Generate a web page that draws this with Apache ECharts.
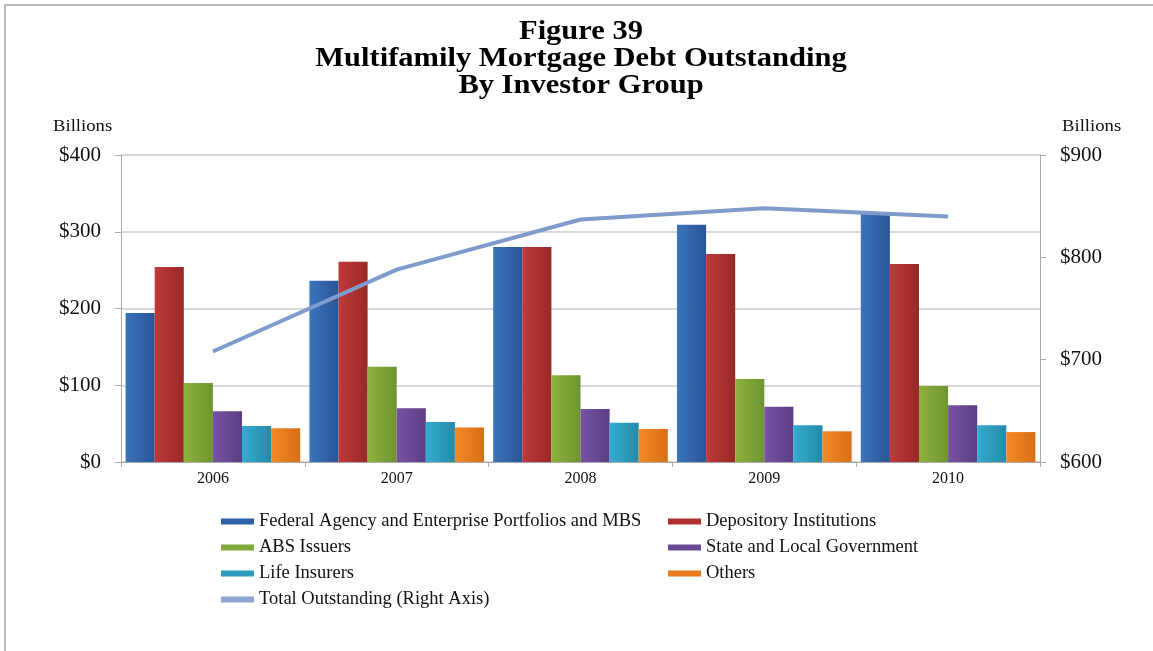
<!DOCTYPE html>
<html>
<head>
<meta charset="utf-8">
<script src="https://cdn.jsdelivr.net/npm/echarts@6/dist/echarts.min.js"></script>
<style>html,body{margin:0;padding:0;background:#fff}#c{width:1153px;height:651px}</style>
</head>
<body>
<div id="c"></div>
<script>
const years = ['2006', '2007', '2008', '2009', '2010'];
const federal = [194, 236, 280, 309, 323];
const depository = [254, 261, 280, 271, 258];
const absIssuers = [103, 124, 113, 108, 99];
const stateLocal = [66, 70, 69, 72, 74];
const lifeIns = [47, 52, 51, 48, 48];
const others = [44, 45, 43, 40, 39];
const total = [708, 788, 837, 848, 840];
const leftTicks = ['$0', '$100', '$200', '$300', '$400'];
const rightTicks = ['$600', '$700', '$800', '$900'];
const titleLines = ['Figure 39', 'Multifamily Mortgage Debt Outstanding', 'By Investor Group'];

const SERIF = "'Liberation Serif', 'DejaVu Serif', serif";
function grad(a, b) {
  return new echarts.graphic.LinearGradient(0, 0, 1, 0, [{offset: 0, color: a}, {offset: 1, color: b}]);
}
const barDefs = [
  ['Federal Agency and Enterprise Portfolios and MBS', federal, '#3A74BE', '#2A5594', '#2F5FA5'],
  ['Depository Institutions', depository, '#C0393A', '#982826', '#B0302E'],
  ['ABS Issuers', absIssuers, '#8DB23E', '#6E9430', '#81A83A'],
  ['State and Local Government', stateLocal, '#7853A3', '#5A3E84', '#6A4A94'],
  ['Life Insurers', lifeIns, '#33ADD0', '#2689A8', '#2D9CBF'],
  ['Others', others, '#F28A26', '#D86E16', '#E87B1E']
];
const series = barDefs.map(d => ({
  name: d[0], type: 'bar', data: d[1], yAxisIndex: 0,
  barGap: '0%', barCategoryGap: '5%',
  itemStyle: {color: grad(d[2], d[3])}
}));
series.push({
  name: 'Total Outstanding (Right Axis)', type: 'line', data: total, yAxisIndex: 1,
  symbol: 'none', lineStyle: {color: '#7F9BCB', width: 4}, itemStyle: {color: '#7F9BCB'}
});

const chart = echarts.init(document.getElementById('c'));
const legendText = {fontFamily: SERIF, fontSize: 18.5, color: '#111'};
const graphics = [
  {type: 'rect', shape: {x: 5, y: 5, width: 1170, height: 670}, style: {fill: 'none', stroke: '#bdbdbd', lineWidth: 2}, silent: true},
  {type: 'text', x: 53, y: 118, scaleX: 1.1, style: {text: 'Billions', font: "17px 'Liberation Serif'", fill: '#111'}},
  {type: 'text', x: 1062, y: 118, scaleX: 1.1, style: {text: 'Billions', font: "17px 'Liberation Serif'", fill: '#111'}}
];
titleLines.forEach((t, i) => {
  graphics.push({type: 'text', x: 581, y: 32 + i * 27, scaleX: 1.13,
    style: {text: t, font: "bold 27px 'Liberation Serif'", fill: '#000', align: 'center', verticalAlign: 'middle'}});
});
chart.setOption({
  animation: false,
  backgroundColor: '#fff',
  grid: {left: 121, right: 113, top: 155, bottom: 189},
  legend: [
    {
      orient: 'vertical', left: 216, top: 507, itemGap: 7, itemWidth: 33, itemHeight: 6,
      textStyle: legendText,
      data: [
        {name: barDefs[0][0], icon: 'rect', itemStyle: {color: barDefs[0][4]}},
        {name: barDefs[2][0], icon: 'rect', itemStyle: {color: barDefs[2][4]}},
        {name: barDefs[4][0], icon: 'rect', itemStyle: {color: barDefs[4][4]}},
        {name: 'Total Outstanding (Right Axis)', icon: 'rect', itemStyle: {color: '#8CA5D2'}}
      ]
    },
    {
      orient: 'vertical', left: 663, top: 507, itemGap: 7, itemWidth: 33, itemHeight: 6,
      textStyle: legendText,
      data: [
        {name: barDefs[1][0], icon: 'rect', itemStyle: {color: barDefs[1][4]}},
        {name: barDefs[3][0], icon: 'rect', itemStyle: {color: barDefs[3][4]}},
        {name: barDefs[5][0], icon: 'rect', itemStyle: {color: barDefs[5][4]}}
      ]
    }
  ],
  xAxis: {
    type: 'category', data: years,
    axisLine: {lineStyle: {color: '#aaa', width: 1}},
    axisTick: {show: true, length: 5, lineStyle: {color: '#aaa'}},
    axisLabel: {fontFamily: SERIF, fontSize: 16, color: '#111', margin: 9}
  },
  yAxis: [
    {
      type: 'value', min: 0, max: 400, interval: 100,
      axisLine: {show: true, lineStyle: {color: '#aaa'}},
      axisTick: {show: true, length: 6, lineStyle: {color: '#aaa'}},
      splitLine: {lineStyle: {color: '#ccc', width: 1.5}},
      axisLabel: {fontFamily: SERIF, fontSize: 21, color: '#111', margin: 20,
        formatter: v => leftTicks[Math.round(v / 100)]}
    },
    {
      type: 'value', min: 600, max: 900, interval: 100,
      axisLine: {show: true, lineStyle: {color: '#aaa'}},
      axisTick: {show: true, length: 6, lineStyle: {color: '#aaa'}},
      splitLine: {show: false},
      axisLabel: {fontFamily: SERIF, fontSize: 21, color: '#111', margin: 20,
        formatter: v => rightTicks[Math.round((v - 600) / 100)]}
    }
  ],
  graphic: graphics,
  series: series
});
</script>
</body>
</html>
